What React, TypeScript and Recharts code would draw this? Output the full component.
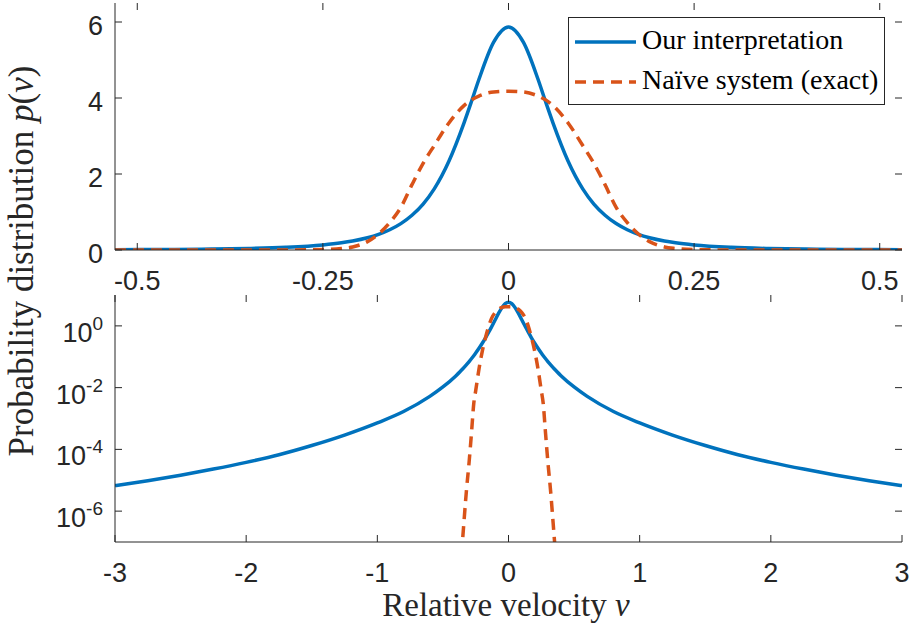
import { Legend, Line, LineChart, XAxis, YAxis } from 'recharts'

// top panel (linear), velocity grid and read-off values
const topV = [
   -0.53, -0.45, -0.4, -0.35, -0.3, -0.25, -0.225, -0.21, -0.19, -0.175, -0.16, -0.145, -0.13, -0.115, -0.1,
   -0.08, -0.06, -0.05, -0.04, -0.02, 0, 0.02, 0.04, 0.05, 0.06, 0.08, 0.1, 0.115, 0.13, 0.145, 0.16, 0.175,
   0.19, 0.21, 0.225, 0.25, 0.3, 0.35, 0.4, 0.45, 0.53,
]
const topOurs = [
   0.0084, 0.0156, 0.0244, 0.04, 0.07, 0.132, 0.188, 0.235, 0.321, 0.411, 0.532, 0.695, 0.915, 1.21, 1.61,
   2.35, 3.34, 3.9, 4.48, 5.47, 5.87, 5.47, 4.48, 3.9, 3.34, 2.35, 1.61, 1.21, 0.915, 0.695, 0.532, 0.411,
   0.321, 0.235, 0.188, 0.132, 0.07, 0.04, 0.0244, 0.0156, 0.0084,
]
const topNaive = [
   0, 0, 0, 0, 0.001, 0.012, 0.04, 0.08, 0.22, 0.42, 0.72, 1.12, 1.72, 2.28, 2.75,
   3.35, 3.8, 3.95, 4.05, 4.16, 4.18, 4.16, 4.05, 3.95, 3.8, 3.35, 2.75, 2.28, 1.72, 1.12, 0.72, 0.42,
   0.22, 0.08, 0.04, 0.012, 0.001, 0, 0, 0, 0,
]

// bottom panel (log)
const botV = [
   -3, -2.75, -2.5, -2.25, -2, -1.75, -1.5, -1.25, -1, -0.8, -0.6, -0.5, -0.4, -0.37, -0.35, -0.32, -0.3,
   -0.28, -0.265, -0.25, -0.225, -0.2, -0.175, -0.15, -0.13, -0.1, -0.075, -0.05, -0.025, 0, 0.025, 0.05,
   0.075, 0.1, 0.13, 0.15, 0.175, 0.2, 0.225, 0.25, 0.265, 0.28, 0.3, 0.32, 0.35, 0.37, 0.4, 0.5, 0.6, 0.8,
   1, 1.25, 1.5, 1.75, 2, 2.25, 2.5, 2.75, 3,
]
const botOurs = [
   6.7e-6, 9.7e-6, 1.46e-5, 2.3e-5, 3.8e-5, 6.7e-5, 1.33e-4, 2.9e-4, 7.2e-4, 1.68e-3, 5.2e-3, 0.0105, 0.0244,
   0.0326, 0.04, 0.0555, 0.07, 0.0892, 0.108, 0.132, 0.188, 0.274, 0.411, 0.635, 0.915, 1.61, 2.57, 3.9, 5.26,
   5.87, 5.26, 3.9, 2.57, 1.61, 0.915, 0.635, 0.411, 0.274, 0.188, 0.132, 0.108, 0.0892, 0.07, 0.0555, 0.04,
   0.0326, 0.0244, 0.0105, 5.2e-3, 1.68e-3, 7.2e-4, 2.9e-4, 1.33e-4, 6.7e-5, 3.8e-5, 2.3e-5, 1.46e-5, 9.7e-6,
   6.7e-6,
]
const botNaive = [
   null, null, null, null, null, null, null, null, null, null, null, null, null, 1e-8, 1.2e-7, 5e-6, 4e-5,
   4.5e-4, 3e-3, 8e-3, 0.04, 0.15, 0.42, 1.0, 1.72, 2.75, 3.45, 3.95, 4.15, 4.18, 4.15, 3.95,
   3.45, 2.75, 1.72, 1.0, 0.42, 0.15, 0.04, 8e-3, 3e-3, 4.5e-4, 4e-5, 5e-6, 1.2e-7, 1e-8, null, null, null, null,
   null, null, null, null, null, null, null, null, null,
]

const topXTicks = [-0.5, -0.25, 0, 0.25, 0.5]
const topYTicks = [0, 2, 4, 6]
const botXTicks = [-3, -2, -1, 0, 1, 2, 3]
const botYTicks = [1e-6, 1e-4, 1e-2, 1]

const seriesNames = ['Our interpretation', 'Naïve system (exact)']

const topRows = topV.map((v, i) => ({ v, ours: topOurs[i], naive: topNaive[i] }))
const botRows = botV.map((v, i) => ({ v, ours: botOurs[i], naive: botNaive[i] }))

const BLUE = '#0072BD'
const ORANGE = '#D95319'
const INK = '#262626'
const SANS = '"Liberation Sans", Arial, Helvetica, sans-serif'
const SERIF = '"Liberation Serif", "Times New Roman", serif'
const PLOT_W = 787
const PLOT_H = 247

function XTick(props: any) {
   const { x, y, payload } = props
   return (
      <g>
         <line x1={x} x2={x} y1={y} y2={y - 7} stroke={INK} />
         <line x1={x} x2={x} y1={y - PLOT_H} y2={y - PLOT_H + 7} stroke={INK} />
         <text x={x} y={y + 40} textAnchor="middle" fontFamily={SANS} fontSize={27} fill={INK}>
            {String(payload.value)}
         </text>
      </g>
   )
}

function YTick(props: any) {
   const { x, y, payload, log } = props
   const exp = Math.round(Math.log10(payload.value))
   return (
      <g>
         <line x1={x} x2={x + 7} y1={y} y2={y} stroke={INK} />
         <line x1={x + PLOT_W} x2={x + PLOT_W - 7} y1={y} y2={y} stroke={INK} />
         {log ? (
            <text x={x - 12} y={y + 16} textAnchor="end" fontFamily={SANS} fontSize={27} fill={INK}>
               10
               <tspan dy={-12} fontSize={19}>
                  {String(exp)}
               </tspan>
            </text>
         ) : (
            <text x={x - 12} y={y + 13} textAnchor="end" fontFamily={SANS} fontSize={27} fill={INK}>
               {String(payload.value)}
            </text>
         )}
      </g>
   )
}

function YLabel() {
   return (
      <text transform="translate(33,261) rotate(-90)" textAnchor="middle" fontFamily={SERIF} fontSize={35} fill={INK}>
         Probability distribution <tspan fontStyle="italic">p</tspan>(<tspan fontStyle="italic">v</tspan>)
      </text>
   )
}

function XLabel() {
   return (
      <text x={506} y={324} textAnchor="middle" fontFamily={SERIF} fontSize={33} fill={INK}>
         Relative velocity <tspan fontStyle="italic">v</tspan>
      </text>
   )
}

function LegendBox() {
   return (
      <div style={{ width: 317, height: 88, border: `1px solid ${INK}`, background: '#fff', boxSizing: 'border-box' }}>
         <svg width={315} height={86}>
            <line x1={6} x2={67} y1={24} y2={24} stroke={BLUE} strokeWidth={3.5} />
            <text x={73} y={31} fontFamily={SERIF} fontSize={28} fill="#000">
               {seriesNames[0]}
            </text>
            <line x1={6} x2={67} y1={64} y2={64} stroke={ORANGE} strokeWidth={3.5} strokeDasharray="11 7" />
            <text x={73} y={71} fontFamily={SERIF} fontSize={28} fill="#000">
               {seriesNames[1]}
            </text>
         </svg>
      </div>
   )
}

export default function App() {
   return (
      <div style={{ position: 'absolute', left: 0, top: 0, width: 910, height: 626, background: '#fff' }}>
         <style>{`.recharts-surface{overflow:visible}`}</style>
         <div style={{ position: 'absolute', left: 0, top: 0 }}>
            <LineChart width={910} height={290} data={topRows} margin={{ top: 3, right: 8, bottom: 0, left: 0 }}>
               <XAxis
                  dataKey="v"
                  type="number"
                  domain={[-0.53, 0.53]}
                  allowDataOverflow
                  ticks={topXTicks}
                  height={40}
                  tickSize={0}
                  tickMargin={0}
                  tickLine={false}
                  stroke={INK}
                  tick={<XTick />}
               />
               <XAxis xAxisId="top" orientation="top" type="number" domain={[-0.53, 0.53]} height={0} tick={false} tickLine={false} stroke={INK} />
               <YAxis
                  type="number"
                  domain={[0, 6.5]}
                  allowDataOverflow
                  ticks={topYTicks}
                  width={115}
                  tickSize={0}
                  tickMargin={0}
                  tickLine={false}
                  stroke={INK}
                  tick={<YTick />}
                  label={<YLabel />}
               />
               <YAxis yAxisId="right" orientation="right" type="number" domain={[0, 6.5]} width={0} tick={false} tickLine={false} stroke={INK} />
               <Legend
                  layout="horizontal"
                  verticalAlign="middle"
                  align="center"
                  wrapperStyle={{ top: 17, left: 568, width: 317 }}
                  content={<LegendBox />}
               />
               <Line name={seriesNames[0]} dataKey="ours" type="monotone" stroke={BLUE} strokeWidth={3.5} dot={false} isAnimationActive={false} />
               <Line name={seriesNames[1]} dataKey="naive" type="monotone" stroke={ORANGE} strokeWidth={3.5} strokeDasharray="11 7" dot={false} isAnimationActive={false} />
            </LineChart>
         </div>
         <div style={{ position: 'absolute', left: 0, top: 292 }}>
            <LineChart width={910} height={334} data={botRows} margin={{ top: 3, right: 8, bottom: 0, left: 0 }}>
               <XAxis
                  dataKey="v"
                  type="number"
                  domain={[-3, 3]}
                  allowDataOverflow
                  ticks={botXTicks}
                  height={84}
                  tickSize={0}
                  tickMargin={0}
                  tickLine={false}
                  stroke={INK}
                  tick={<XTick />}
                  label={<XLabel />}
               />
               <XAxis xAxisId="top" orientation="top" type="number" domain={[-3, 3]} height={0} tick={false} tickLine={false} stroke={INK} />
               <YAxis
                  type="number"
                  scale="log"
                  domain={[1e-7, 10]}
                  allowDataOverflow
                  ticks={botYTicks}
                  width={115}
                  tickSize={0}
                  tickMargin={0}
                  tickLine={false}
                  stroke={INK}
                  tick={<YTick log />}
               />
               <YAxis yAxisId="right" orientation="right" type="number" scale="log" domain={[1e-7, 10]} width={0} tick={false} tickLine={false} stroke={INK} />
               <Line name={seriesNames[0]} dataKey="ours" type="monotone" stroke={BLUE} strokeWidth={3.5} dot={false} isAnimationActive={false} />
               <Line name={seriesNames[1]} dataKey="naive" type="monotone" stroke={ORANGE} strokeWidth={3.5} strokeDasharray="11 7" dot={false} isAnimationActive={false} />
            </LineChart>
         </div>
      </div>
   )
}
